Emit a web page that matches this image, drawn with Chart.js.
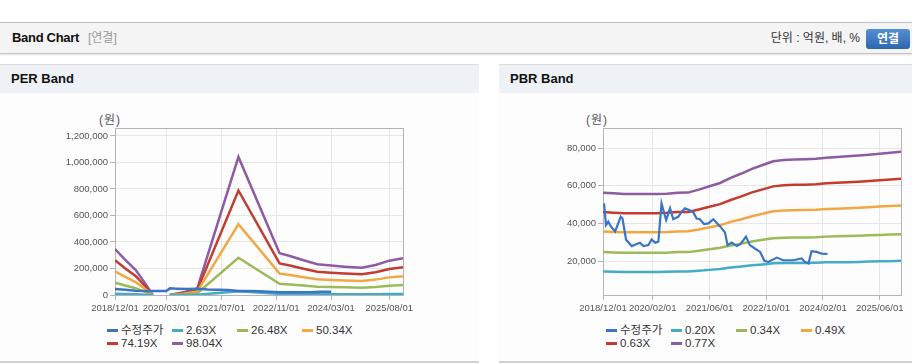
<!DOCTYPE html>
<html><head><meta charset="utf-8">
<script src="https://cdn.jsdelivr.net/npm/chart.js@4/dist/chart.umd.min.js"></script>
<style>
html,body{margin:0;padding:0;background:#fff;width:912px;height:364px;overflow:hidden;font-family:"Liberation Sans","Noto Sans CJK KR",Arial,sans-serif;}
.topbar{position:absolute;left:0;top:22px;width:912px;height:30px;background:#f4f4f4;border-top:1px solid #bdbdbd;border-bottom:1px solid #c4c4c4;box-shadow:0 1px 2px rgba(0,0,0,0.12);}
.topbar .t{position:absolute;left:12px;top:0;line-height:30px;font-weight:bold;font-size:13px;color:#111;letter-spacing:-0.3px;}
.topbar .s{position:absolute;left:88px;top:0;line-height:30px;font-size:12px;color:#999;}
.topbar .u{position:absolute;right:52px;top:0;line-height:30px;font-size:12px;color:#333;}
.topbar .b{position:absolute;left:866px;top:6px;width:44px;height:20px;line-height:20px;border-radius:3px;background:linear-gradient(#5490d6,#2e66ae);color:#fff;font-weight:bold;font-size:12px;text-align:center;}
.panel{position:absolute;top:64px;height:296px;background:#fdfdfd;border-top:1px solid #dcdcdc;border-bottom:2px solid #d2d2d2;}
.panel .h{height:28px;line-height:28px;background:#eef2f7;padding-left:11px;font-weight:bold;font-size:13px;color:#111;}
.unit{position:absolute;top:110px;font-size:12px;color:#555;letter-spacing:1px;}
canvas{position:absolute;}
.legend{position:absolute;font-size:11.5px;color:#333;}
.legend .it{position:absolute;white-space:nowrap;height:13px;line-height:13px;}
.legend .mk{position:absolute;left:0;top:5px;width:11px;height:3px;}
.legend .tx{position:absolute;left:14px;top:0;}
</style></head>
<body>
<div class="topbar"><span class="t">Band Chart</span><span class="s">[연결]</span><span class="u">단위 : 억원, 배, %</span><span class="b">연결</span></div>
<div class="panel" style="left:0;width:479px;"><div class="h">PER Band</div></div>
<div class="panel" style="left:499px;width:413px;"><div class="h">PBR Band</div></div>
<div class="unit" style="left:99px;">(원)</div>
<div class="unit" style="left:586px;">(원)</div>
<canvas id="per" width="479" height="220" style="left:0;top:100px;"></canvas>
<canvas id="pbr" width="413" height="220" style="left:499px;top:100px;"></canvas>
<div class="legend" id="perLegend" style="left:107px;top:324px;"></div>
<div class="legend" id="pbrLegend" style="left:606px;top:324px;"></div>
<script>
// ---- axes ----
const perXTickMonths = [0, 15, 31, 47, 63, 80];
const perXTickLabels = ['2018/12/01','2020/03/01','2021/07/01','2022/11/01','2024/03/01','2025/08/01'];
const pbrXTickMonths = [0, 14, 30, 46, 62, 78];
const pbrXTickLabels = ['2018/12/01','2020/02/01','2021/06/01','2022/10/01','2024/02/01','2025/06/01'];
const perYTicks = [0, 200000, 400000, 600000, 800000, 1000000, 1200000];
const pbrYTicks = [20000, 40000, 60000, 80000];

// ---- PER band (x = months since 2018/12) ----
const perBandMonths = [0,3,6,9,11,12,16,20,24,36,48,51,55,59,63,67,72,76,80,84];
const per263  = [9300,7100,5100,2100,0,null,0,500,1300,28000,8500,7900,7000,6200,6000,5700,5500,6100,6900,7400];
const per2648 = [93700,71600,51300,21600,0,null,0,5400,13500,281400,85100,79400,70800,62700,60000,57800,55600,61000,70000,74800];
const per5034 = [178200,136100,97600,41100,0,null,0,10300,25700,535100,161800,151000,134500,119100,114000,109900,105800,116100,133000,142200];
const per7419 = [262600,200500,143800,60500,0,null,0,15100,37800,788500,238400,222500,198300,175600,168000,161900,155900,171000,196000,209600];
const per9804 = [347000,265000,190000,80000,0,null,0,20000,50000,1042000,315000,294000,262000,232000,222000,214000,206000,226000,259000,277000];
const perPriceMonths = [0,3,6,9,12,15,16,18,21,24,27,30,33,36,39,42,45,48,51,54,57,60,63];
const perPrice = [45000,40000,32000,30000,30000,31000,50000,48000,46000,47000,42000,40000,38000,30000,30000,29000,24000,20000,21000,20000,20000,25000,24000];

// ---- PBR band ----
const pbrBandMonths = [0,3,6,9,12,15,18,21,24,27,30,33,36,39,42,45,48,51,54,57,60,63,66,69,72,75,78,81,84];
const pbr020 = [14600,14500,14400,14400,14400,14400,14500,14600,14600,15100,15500,16000,16700,17300,17900,18400,19000,19100,19200,19200,19300,19500,19600,19600,19700,19900,20000,20100,20300];
const pbr034 = [24900,24700,24600,24600,24600,24600,24600,24900,24900,25600,26400,27200,28400,29400,30500,31400,32200,32500,32600,32700,32800,33100,33300,33400,33600,33800,34000,34200,34400];
const pbr049 = [35800,35600,35400,35400,35400,35400,35500,35800,35900,36900,38100,39100,40900,42300,43900,45200,46500,46900,47000,47200,47300,47700,47900,48100,48400,48700,49000,49300,49600];
const pbr063 = [46100,45800,45500,45500,45500,45500,45700,46100,46100,47500,48900,50300,52500,54400,56500,58100,59700,60300,60500,60600,60800,61300,61600,61900,62200,62600,63000,63400,63800];
const pbr077 = [56300,56000,55600,55600,55600,55600,55800,56300,56400,58000,59800,61500,64200,66500,69000,71000,73000,73700,73900,74100,74300,74900,75300,75600,76000,76500,77000,77500,78000];
const pbrPriceMonths = [0.3,0.85,1.5,2.2,3.4,5.0,5.5,6.5,8.1,9.5,10.4,11.4,12.8,13.7,14.7,15.6,16.5,17.8,18.9,19.8,21.2,22.2,23.1,24.3,25.5,26.4,27.3,28.5,29.7,31.1,33.0,34.4,35.1,36.3,37.7,38.8,40.3,41.4,42.8,44.3,45.5,46.6,49.0,50.8,53.6,56.0,56.9,57.9,58.8,60.2,61.6,63.3];
const pbrPrice = [50700,39200,41000,38500,35800,43600,42700,31400,28100,29200,29900,28100,28600,31600,29900,30400,50700,41900,48100,42300,43600,46300,48100,47200,45800,42700,42300,39700,40100,42300,38500,35300,28600,29900,28100,29200,33100,28600,26800,25000,20300,19700,22000,20600,20600,21500,19700,18900,25400,25000,24100,23900];

const perSeriesNames = ['수정주가','2.63X','26.48X','50.34X','74.19X','98.04X'];
const pbrSeriesNames = ['수정주가','0.20X','0.34X','0.49X','0.63X','0.77X'];
const seriesColors = ['#3b74c4','#45acc8','#9bbb59','#f2a743','#c43b2f','#8e5ba2'];

const tickFont = {family: '"Liberation Sans", Arial, sans-serif', size: 9.5};

function zip(xs, ys){ return xs.map((x,i)=>({x:x, y:ys[i]})); }
function ds(label, xs, ys, color, w){
  return {label, data: zip(xs, ys), borderColor: color, backgroundColor: color, borderWidth: w, pointRadius: 0, tension: 0, fill: false, spanGaps: false};
}
const boxPlugin = {
  id: 'box',
  beforeDatasetsDraw(chart){
    const a = chart.chartArea, c = chart.ctx;
    c.save(); c.strokeStyle = '#b4b4b4'; c.lineWidth = 1;
    c.strokeRect(Math.round(a.left)+0.5, Math.round(a.top)+0.5, Math.round(a.right-a.left), Math.round(a.bottom-a.top));
    c.restore();
  }
};
function makeOptions(o){
  return {
    responsive: false, animation: false, devicePixelRatio: 1,
    layout: {padding: {left: 0, right: o.padRight, top: 28, bottom: 0}},
    plugins: {legend: {display: false}, tooltip: {enabled: false}},
    scales: {
      x: {
        type: 'linear', min: 0, max: 84,
        afterFit(s){ s.height = 25; },
        afterBuildTicks(s){ s.ticks = o.xTicks.map(v=>({value: v})); },
        grid: {color: '#e6e6e6', tickColor: '#b4b4b4', tickLength: 5, drawTicks: true},
        border: {color: '#b4b4b4'},
        ticks: {padding: 3, maxRotation: 0, autoSkip: false, color: '#555', font: tickFont,
          callback: (v, i) => o.xLabels[i]}
      },
      y: {
        type: 'linear', min: o.yMin, max: o.yMax,
        afterFit(s){ s.width = o.yWidth; },
        afterBuildTicks(s){ s.ticks = o.yTicks.map(v=>({value: v})); },
        grid: {color: '#e6e6e6', tickColor: '#b4b4b4', tickLength: 5, drawTicks: true},
        border: {color: '#b4b4b4'},
        ticks: {padding: 2, color: '#555', font: tickFont,
          callback: v => Number(v).toLocaleString('en-US')}
      }
    }
  };
}

new Chart(document.getElementById('per'), {
  type: 'line',
  data: {datasets: [
    ds(perSeriesNames[0], perPriceMonths, perPrice, seriesColors[0], 2.5),
    ds(perSeriesNames[1], perBandMonths, per263, seriesColors[1], 2.5),
    ds(perSeriesNames[2], perBandMonths, per2648, seriesColors[2], 2.5),
    ds(perSeriesNames[3], perBandMonths, per5034, seriesColors[3], 2.5),
    ds(perSeriesNames[4], perBandMonths, per7419, seriesColors[4], 2.5),
    ds(perSeriesNames[5], perBandMonths, per9804, seriesColors[5], 2.5)
  ]},
  options: makeOptions({padRight: 76, xTicks: perXTickMonths, xLabels: perXTickLabels, yTicks: perYTicks, yMin: 0, yMax: 1260000, yWidth: 115}),
  plugins: [boxPlugin]
});

new Chart(document.getElementById('pbr'), {
  type: 'line',
  data: {datasets: [
    ds(pbrSeriesNames[0], pbrPriceMonths, pbrPrice, seriesColors[0], 2.2),
    ds(pbrSeriesNames[1], pbrBandMonths, pbr020, seriesColors[1], 2.5),
    ds(pbrSeriesNames[2], pbrBandMonths, pbr034, seriesColors[2], 2.5),
    ds(pbrSeriesNames[3], pbrBandMonths, pbr049, seriesColors[3], 2.5),
    ds(pbrSeriesNames[4], pbrBandMonths, pbr063, seriesColors[4], 2.5),
    ds(pbrSeriesNames[5], pbrBandMonths, pbr077, seriesColors[5], 2.5)
  ]},
  options: makeOptions({padRight: 11, xTicks: pbrXTickMonths, xLabels: pbrXTickLabels, yTicks: pbrYTicks, yMin: 2200, yMax: 90600, yWidth: 104}),
  plugins: [boxPlugin]
});

function buildLegend(id, names){
  const el = document.getElementById(id);
  names.forEach((n, i) => {
    const it = document.createElement('div');
    it.className = 'it';
    it.style.left = (65 * (i % 4)) + 'px';
    it.style.top = (13 * Math.floor(i / 4)) + 'px';
    it.innerHTML = '<span class="mk" style="background:' + seriesColors[i] + '"></span><span class="tx">' + n + '</span>';
    el.appendChild(it);
  });
}
buildLegend('perLegend', perSeriesNames);
buildLegend('pbrLegend', pbrSeriesNames);
</script>
</body></html>
